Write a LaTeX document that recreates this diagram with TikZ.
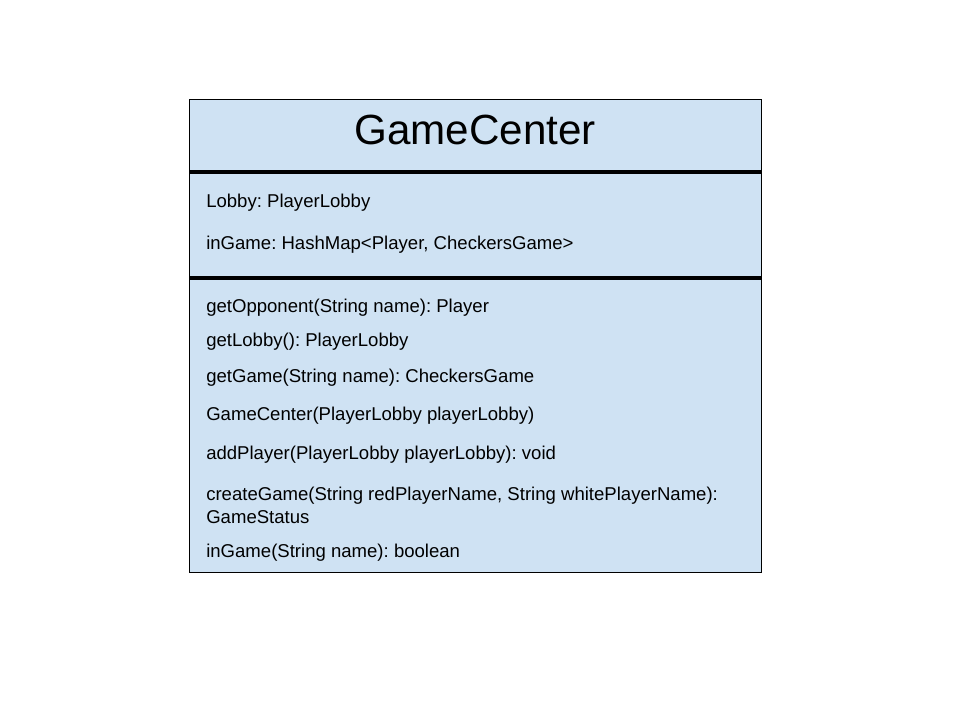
\documentclass[tikz,border=0pt]{standalone}
\usepackage{fontspec}
\setmainfont{Liberation Sans}
\usetikzlibrary{positioning}
\definecolor{classblue}{HTML}{CFE2F3}
\frenchspacing

\begin{document}
\begin{tikzpicture}[
  x=0.025cm,
  y=-0.025cm,
  classbox/.style={
    draw=black,
    line width=0.7pt,
    fill=classblue
  },
  divider/.style={
    draw=black,
    line width=2.3pt
  },
  title/.style={
    font=\fontsize{30}{36}\selectfont,
    inner sep=0pt
  },
  member/.style={
    anchor=base west,
    font=\fontsize{13.2}{16.3}\selectfont,
    inner sep=0pt
  }
]
\useasboundingbox (0,0) rectangle (960,720);

% ------------------------------------------------
% Class frame
% ------------------------------------------------
\draw[classbox] (189,99) rectangle (761,572);
\coordinate (div1w) at (189,172);
\coordinate (div1e) at (761,172);
\coordinate (div2w) at (189,278);
\coordinate (div2e) at (761,278);
\draw[divider] (div1w) -- (div1e);
\draw[divider] (div2w) -- (div2e);

\node[title] (name) at (475,130) {GameCenter};

% ------------------------------------------------
% Attributes
% ------------------------------------------------
\node[member] (lobby) at (206,208) {Lobby: PlayerLobby};
\node[member] (ingame) at (206,250) {inGame: HashMap<Player, CheckersGame>};

% ------------------------------------------------
% Methods
% ------------------------------------------------
\node[member] (opponent) at (206,313) {getOpponent(String name): Player};
\node[member] (getlobby) at (206,347) {getLobby(): PlayerLobby};
\node[member] (getgame) at (206,383) {getGame(String name): CheckersGame};
\node[member] (ctor) at (206,421) {GameCenter(PlayerLobby playerLobby)};
\node[member] (addplayer) at (206,460) {addPlayer(PlayerLobby playerLobby): void};
\node[member] (creategame) at (206,501)
{createGame(String redPlayerName, String whitePlayerName):};
\node[member] (creategame2) at (206,524) {GameStatus};
\node[member] (isingame) at (206,557) {inGame(String name): boolean};

\end{tikzpicture}
\end{document}
